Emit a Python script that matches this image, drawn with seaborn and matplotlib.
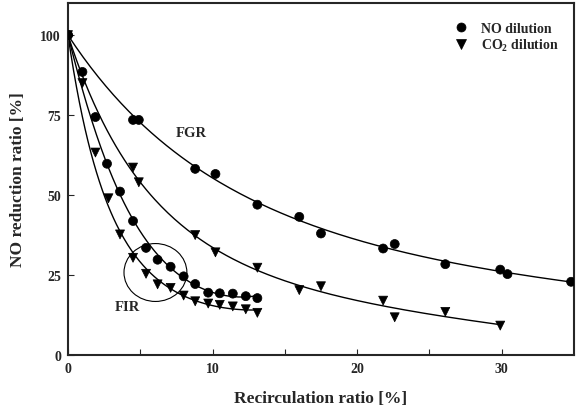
import numpy as np
import pandas as pd
import matplotlib
matplotlib.use("Agg")
import matplotlib.pyplot as plt
import seaborn as sns
from matplotlib.patches import Ellipse

# FGR, NO dilution (circles)
fgr_no_x = [0, 4.5, 4.9, 8.8, 10.2, 13.1, 16.0, 17.5, 21.8, 22.6, 26.1, 29.9, 30.4, 34.8]
fgr_no_y = [100, 73.5, 73.5, 58.2, 56.6, 47.0, 43.2, 38.0, 33.3, 34.7, 28.4, 26.7, 25.3, 22.9]
# FGR, CO2 dilution (triangles)
fgr_co2_x = [0, 4.5, 4.9, 8.8, 10.2, 13.1, 16.0, 17.5, 21.8, 22.6, 26.1, 29.9]
fgr_co2_y = [100, 58.6, 54.0, 37.5, 32.1, 27.3, 20.3, 21.5, 17.0, 11.8, 13.5, 9.2]
# FIR, NO dilution
fir_no_x = [0, 1.0, 1.9, 2.7, 3.6, 4.5, 5.4, 6.2, 7.1, 8.0, 8.8, 9.7, 10.5, 11.4, 12.3, 13.1]
fir_no_y = [100, 88.5, 74.4, 59.8, 51.1, 41.9, 33.5, 29.8, 27.6, 24.6, 22.2, 19.5, 19.3, 19.2, 18.4, 17.8]
# FIR, CO2 dilution
fir_co2_x = [1.0, 1.9, 2.8, 3.6, 4.5, 5.4, 6.2, 7.1, 8.0, 8.8, 9.7, 10.5, 11.4, 12.3, 13.1]
fir_co2_y = [85.0, 63.3, 49.0, 37.7, 30.4, 25.4, 22.1, 21.0, 18.6, 16.8, 16.1, 15.7, 15.2, 14.3, 13.2]

NO_LABEL = "NO dilution"
CO2_LABEL = "CO$_2$ dilution"

frames = []
for xs, ys, gas, mode in [(fgr_no_x, fgr_no_y, NO_LABEL, "FGR"),
                          (fgr_co2_x, fgr_co2_y, CO2_LABEL, "FGR"),
                          (fir_no_x, fir_no_y, NO_LABEL, "FIR"),
                          (fir_co2_x, fir_co2_y, CO2_LABEL, "FIR")]:
    frames.append(pd.DataFrame({"x": xs, "y": ys, "gas": gas, "mode": mode}))
df = pd.concat(frames, ignore_index=True)


# smooth trend line: cubic fit of log(y), pinned at (0, 100)
def trend(xs, ys, deg=3):
    xs = np.r_[0.0, xs]
    ys = np.r_[100.0, ys]
    w = np.ones_like(xs)
    w[0] = 20
    coef = np.polyfit(xs, np.log(ys), deg, w=w)
    xx = np.linspace(0, max(xs), 200)
    return xx, np.exp(np.polyval(coef, xx))


sns.set_style("ticks")
plt.rcParams["font.family"] = ["Liberation Serif", "DejaVu Serif"]
plt.rcParams["font.weight"] = "bold"
plt.rcParams["mathtext.fontset"] = "custom"
plt.rcParams["mathtext.rm"] = "Liberation Serif:bold"

fig, ax = plt.subplots(figsize=(5.76, 4.14), dpi=100)
fig.subplots_adjust(left=0.118, right=0.9965, top=0.99, bottom=0.14)

for xs, ys in [(fgr_no_x[1:], fgr_no_y[1:]), (fgr_co2_x[1:], fgr_co2_y[1:]),
               (fir_no_x[1:], fir_no_y[1:]), (fir_co2_x, fir_co2_y)]:
    xx, yy = trend(xs, ys)
    ax.plot(xx, yy, color="black", lw=1.0, zorder=2)

sns.scatterplot(data=df, x="x", y="y", style="gas",
                markers={NO_LABEL: "o", CO2_LABEL: "v"},
                color="black", s=42, edgecolor="black", linewidth=0.5,
                ax=ax, zorder=3)

ax.add_patch(Ellipse((6.05, 25.8), 4.35, 18.1, fill=False, color="black", lw=0.8))
ax.text(8.55, 69.6, "FGR", fontsize=10.5, fontweight="bold", ha="center", va="center")
ax.text(4.1, 15.2, "FIR", fontsize=10.5, fontweight="bold", ha="center", va="center")

ax.set_xlim(0, 35)
ax.set_ylim(0, 110)
ax.set_xticks([0, 10, 20, 30])
ax.set_xticks([5, 15, 25], minor=True)
ax.set_yticks([0, 25, 50, 75, 100])
ax.tick_params(direction="in", labelsize=10, width=0.8, length=4, pad=5)
ax.tick_params(which="minor", direction="in", width=0.8, length=4)
for s in ax.spines.values():
    s.set_linewidth(1.5)

ax.set_xlabel("Recirculation ratio [%]", fontsize=12.5, fontweight="bold")
ax.set_ylabel("NO reduction ratio [%]", fontsize=12.5, fontweight="bold")
ax.xaxis.set_label_coords(0.5, -0.1)
ax.yaxis.set_label_coords(-0.083, 0.5)

h, l = ax.get_legend_handles_labels()
ax.legend(h, l, loc="upper right", bbox_to_anchor=(0.99, 0.975), frameon=False,
          fontsize=10, handletextpad=0.5, labelspacing=0.15, borderaxespad=0.3)

fig.savefig("out.png", dpi=100)
